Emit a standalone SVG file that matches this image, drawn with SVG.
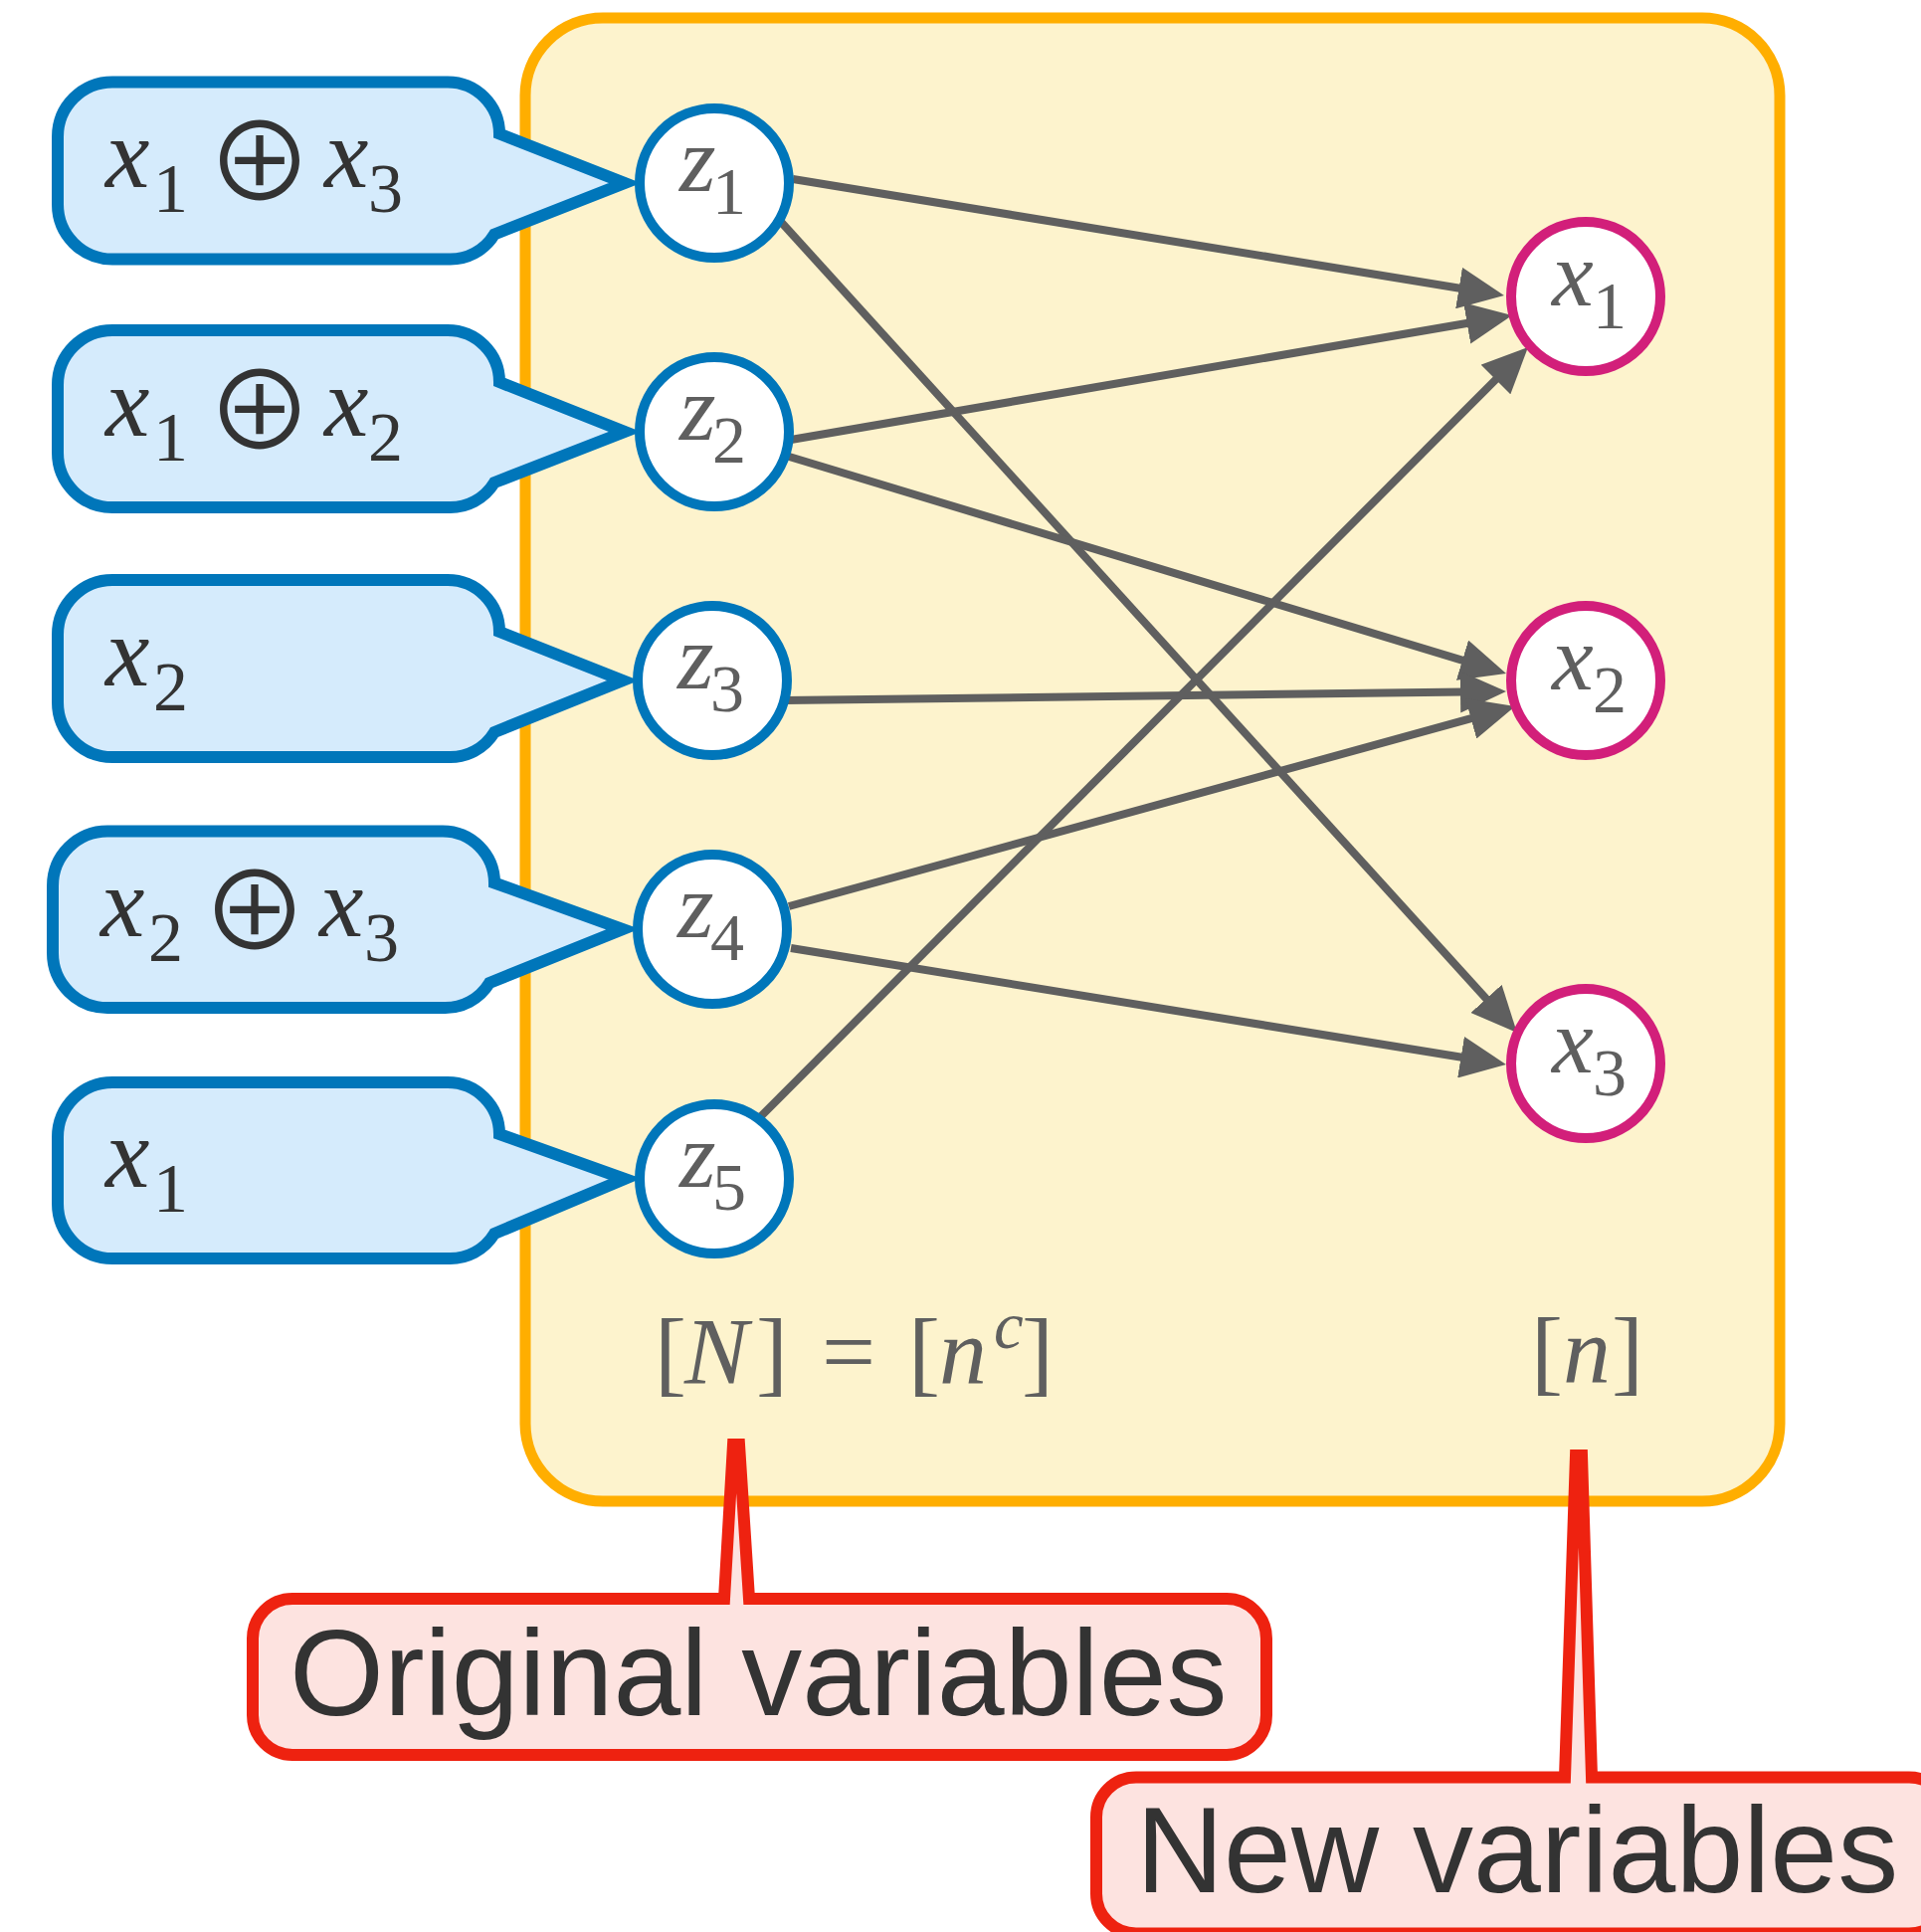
<svg xmlns="http://www.w3.org/2000/svg" width="1931" height="1942" viewBox="0 0 1931 1942">
<style>
.box{fill:#FDF3CD;stroke:#FFAE00;stroke-width:11}
.edge{fill:none;stroke:#5F5F5F;stroke-width:8;marker-end:url(#ah)}
.zn{fill:#FFFFFF;stroke:#0076BA;stroke-width:10}
.xn{fill:#FFFFFF;stroke:#D21F7A;stroke-width:10}
.call{fill:#D5EBFC;stroke:#0076BA;stroke-width:12;stroke-linejoin:miter}
.red{fill:#FDE3E0;stroke:#EE2210;stroke-width:12;stroke-linejoin:miter}
.math{font-family:"Liberation Serif","Times New Roman",serif;fill:#333333}
.gmath{font-family:"Liberation Serif","Times New Roman",serif;fill:#5F5F5F}
.it{font-style:italic}
.oplus{font-family:"Noto Sans CJK JP","DejaVu Sans",sans-serif;fill:#333333;font-size:108px;text-anchor:middle}
.big{font-family:"Liberation Sans",Arial,sans-serif;font-size:122px;fill:#333333}
</style>
<defs>
<marker id="ah" markerUnits="userSpaceOnUse" markerWidth="46" markerHeight="42" refX="4" refY="21" orient="auto">
<path d="M0,0 L46,21 L0,42 Z" fill="#5F5F5F"/>
</marker>
</defs>

<g id="container">
<rect class="box" x="528" y="18" width="1261" height="1491" rx="78" ry="78"/>
</g>

<g id="connectors">
<path class="edge" d="M797 180 L1470.5 290.2"/>
<path class="edge" d="M785 223 L1496.7 1006.9"/>
<path class="edge" d="M795 442 L1478.6 324.2"/>
<path class="edge" d="M790 458 L1473.8 664.8"/>
<path class="edge" d="M788 704 L1472 695.5"/>
<path class="edge" d="M793 911 L1482.5 721.2"/>
<path class="edge" d="M795 953 L1472.5 1063.3"/>
<path class="edge" d="M765 1122 L1506.3 378.7"/>
</g>

<g id="callout1">
<path class="call" d="M113 82.5 H450 A52 52 0 0 1 502 134.5 L628 184 L497 235.5 A52 52 0 0 1 450 260.5 H113 A55 55 0 0 1 58 205.5 V137.5 A55 55 0 0 1 113 82.5 Z"/>
<text class="math" y="188"><tspan class="it" x="106" font-size="100">x</tspan><tspan x="154" y="213" font-size="70">1</tspan></text>
<text class="oplus" x="261" y="202">⊕</text>
<text class="math" y="188"><tspan class="it" x="326" font-size="100">x</tspan><tspan x="370" y="213" font-size="70">3</tspan></text>
</g>

<g id="callout2">
<path class="call" d="M113 332 H450 A52 52 0 0 1 502 384 L628 434 L497 485 A52 52 0 0 1 450 510 H113 A55 55 0 0 1 58 455 V387 A55 55 0 0 1 113 332 Z"/>
<text class="math" y="438"><tspan class="it" x="106" font-size="100">x</tspan><tspan x="154" y="463" font-size="70">1</tspan></text>
<text class="oplus" x="261" y="452">⊕</text>
<text class="math" y="438"><tspan class="it" x="326" font-size="100">x</tspan><tspan x="370" y="463" font-size="70">2</tspan></text>
</g>

<g id="callout3">
<path class="call" d="M113 583 H450 A52 52 0 0 1 502 635 L626 684 L497 736 A52 52 0 0 1 450 761 H113 A55 55 0 0 1 58 706 V638 A55 55 0 0 1 113 583 Z"/>
<text class="math" y="689"><tspan class="it" x="106" font-size="100">x</tspan><tspan x="154" y="714" font-size="70">2</tspan></text>
</g>

<g id="callout4">
<path class="call" d="M108 835.5 H445 A52 52 0 0 1 497 887.5 L626 934 L492 988 A52 52 0 0 1 445 1013 H108 A55 55 0 0 1 53 958 V890.5 A55 55 0 0 1 108 835.5 Z"/>
<text class="math" y="941"><tspan class="it" x="101" font-size="100">x</tspan><tspan x="149" y="966" font-size="70">2</tspan></text>
<text class="oplus" x="256" y="955">⊕</text>
<text class="math" y="941"><tspan class="it" x="321" font-size="100">x</tspan><tspan x="366" y="966" font-size="70">3</tspan></text>
</g>

<g id="callout5">
<path class="call" d="M113 1088 H450 A52 52 0 0 1 502 1140 L628 1185 L497 1240 A52 52 0 0 1 450 1265 H113 A55 55 0 0 1 58 1210 V1143 A55 55 0 0 1 113 1088 Z"/>
<text class="math" y="1193"><tspan class="it" x="106" font-size="100">x</tspan><tspan x="154" y="1218" font-size="70">1</tspan></text>
</g>

<g id="z1">
<circle class="zn" cx="718" cy="184" r="75"/>
<text class="gmath" y="192"><tspan class="it" x="683" font-size="94">z</tspan><tspan x="716" y="215" font-size="68">1</tspan></text>
</g>
<g id="z2">
<circle class="zn" cx="718" cy="434" r="75"/>
<text class="gmath" y="442"><tspan class="it" x="683" font-size="94">z</tspan><tspan x="716" y="465" font-size="68">2</tspan></text>
</g>
<g id="z3">
<circle class="zn" cx="716" cy="684" r="75"/>
<text class="gmath" y="692"><tspan class="it" x="681" font-size="94">z</tspan><tspan x="714" y="715" font-size="68">3</tspan></text>
</g>
<g id="z4">
<circle class="zn" cx="716" cy="934" r="75"/>
<text class="gmath" y="942"><tspan class="it" x="681" font-size="94">z</tspan><tspan x="714" y="965" font-size="68">4</tspan></text>
</g>
<g id="z5">
<circle class="zn" cx="718" cy="1185" r="75"/>
<text class="gmath" y="1193"><tspan class="it" x="683" font-size="94">z</tspan><tspan x="716" y="1216" font-size="68">5</tspan></text>
</g>

<g id="x1">
<circle class="xn" cx="1594" cy="298" r="75"/>
<text class="gmath" y="307"><tspan class="it" x="1560" font-size="94">x</tspan><tspan x="1601" y="330" font-size="68">1</tspan></text>
</g>
<g id="x2">
<circle class="xn" cx="1594" cy="684" r="75"/>
<text class="gmath" y="693"><tspan class="it" x="1560" font-size="94">x</tspan><tspan x="1601" y="716" font-size="68">2</tspan></text>
</g>
<g id="x3">
<circle class="xn" cx="1594" cy="1069" r="75"/>
<text class="gmath" y="1078"><tspan class="it" x="1560" font-size="94">x</tspan><tspan x="1601" y="1101" font-size="68">3</tspan></text>
</g>

<g id="set-labels">
<text class="gmath" y="1391" font-size="96"><tspan x="658">[</tspan><tspan class="it" x="688">N</tspan><tspan x="760">]</tspan><tspan x="826">=</tspan><tspan x="913">[</tspan><tspan class="it" x="944">n</tspan><tspan class="it" x="999" y="1355" font-size="67">c</tspan><tspan x="1027" y="1391">]</tspan></text>
<text class="gmath" y="1390" font-size="96"><tspan x="1539">[</tspan><tspan class="it" x="1571">n</tspan><tspan x="1620">]</tspan></text>
</g>

<g id="original-variables">
<path class="red" d="M294 1607 H728 L737 1452 H743 L753 1607 H1233 A40 40 0 0 1 1273 1647 V1724 A40 40 0 0 1 1233 1764 H294 A40 40 0 0 1 254 1724 V1647 A40 40 0 0 1 294 1607 Z"/>
<text class="big" x="291" y="1724">Original variables</text>
</g>

<g id="new-variables">
<path class="red" d="M1142 1786.5 H1573 L1584 1463 H1590 L1600 1786.5 H1919 A40 40 0 0 1 1959 1826.5 V1903.5 A40 40 0 0 1 1919 1943.5 H1142 A40 40 0 0 1 1102 1903.5 V1826.5 A40 40 0 0 1 1142 1786.5 Z"/>
<text class="big" x="1142" y="1902">New variables</text>
</g>
</svg>
